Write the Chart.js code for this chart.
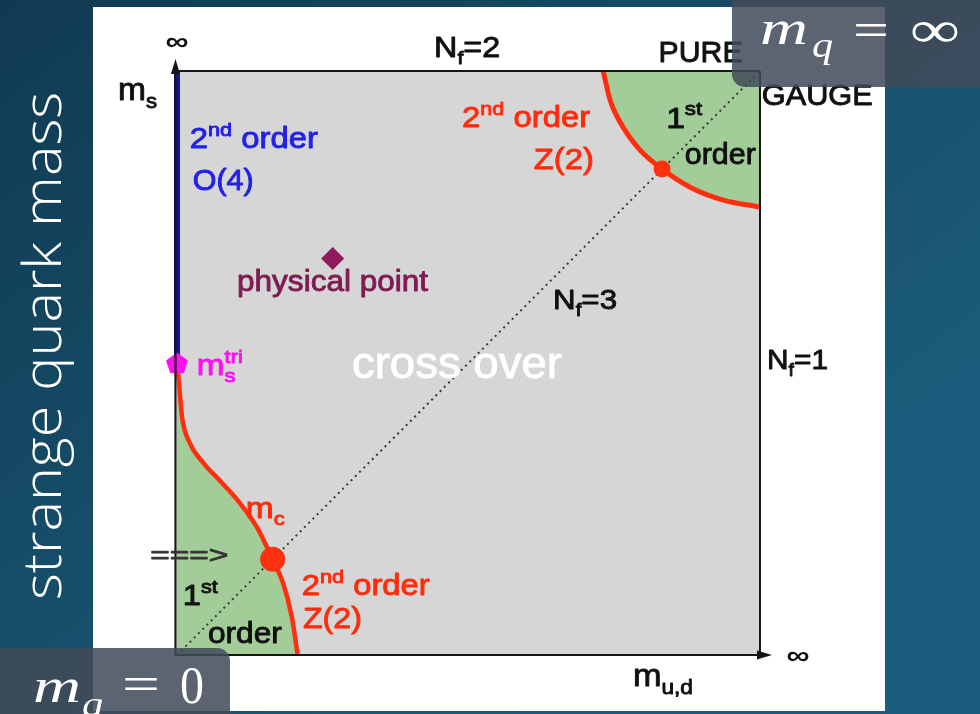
<!DOCTYPE html>
<html>
<head>
<meta charset="utf-8">
<title>Columbia plot</title>
<script src="https://cdn.jsdelivr.net/npm/chart.js@4.4.1/dist/chart.umd.min.js"></script>
<style>
  html, body { margin: 0; padding: 0; background: #123f57; overflow: hidden; }
  canvas { display: block; }
</style>
</head>
<body>
<canvas id="columbia" width="980" height="714"></canvas>
<script>
// Axes: light quark mass m_u,d (x) and strange quark mass m_s (y), scaled 0..1 where 1 stands for infinity.

// Lower chiral critical line m_c (Z(2)), from the tricritical point down to the m_u,d axis
const lowerBoundaryMud = [0, 0.0034, 0.0086, 0.022, 0.045, 0.077, 0.108, 0.137, 0.164, 0.182, 0.197, 0.207];
const lowerBoundaryMs  = [0.5, 0.466, 0.408, 0.363, 0.329, 0.295, 0.260, 0.219, 0.164, 0.123, 0.065, 0];

// Upper deconfinement critical line (Z(2)) around the pure gauge corner
const upperBoundaryMud = [0.731, 0.743, 0.765, 0.794, 0.832, 0.880, 0.937, 1.0];
const upperBoundaryMs  = [1.0, 0.950, 0.904, 0.865, 0.832, 0.801, 0.779, 0.767];

// Second-order O(4) line on the m_u,d = 0 edge
const o4LineMud = [0, 0];
const o4LineMs  = [0.5, 1.0];

// N_f = 3 diagonal
const nf3Mud = [0, 1];
const nf3Ms  = [0, 1];

// Critical end points on the N_f = 3 line
const criticalMud = [0.164, 0.832];
const criticalMs  = [0.164, 0.832];
const criticalSize = [12.5, 8.5];

// Physical point and tricritical strange mass
const physicalMud = [0.267];
const physicalMs  = [0.679];
const tricriticalMud = [0];
const tricriticalMs  = [0.5];

// Text annotations: parts are [text, 'sub' | 'sup' | 'supStack'], anchored in axis units
const RED = '#ff2c0c', BLUE = '#2222e8', MAROON = '#7e1c52', MAGENTA = '#ff10f0', INK = '#111111';
const annotations = [
  { parts: [['∞']], u: 0, v: 1.048, size: 26, width: 23, color: INK, bold: true, center: true },
  { parts: [['m'], ['s', 'sub']], u: -0.101, v: 0.950, size: 32, width: 39, color: INK },
  { parts: [['N'], ['f', 'sub'], ['=2']], u: 0.441, v: 1.024, size: 29, width: 66, color: INK },
  { parts: [['PURE']], u: 0.826, v: 1.015, size: 30, width: 84, color: INK },
  { parts: [['GAUGE']], u: 1.003, v: 0.942, size: 30, width: 111, color: INK },
  { parts: [['2'], ['nd', 'sup'], [' order']], u: 0.489, v: 0.904, size: 29, width: 128, color: RED },
  { parts: [['Z(2)']], u: 0.612, v: 0.832, size: 29, width: 60, color: RED },
  { parts: [['1'], ['st', 'sup']], u: 0.839, v: 0.903, size: 29, width: 36, color: INK },
  { parts: [['order']], u: 0.871, v: 0.841, size: 29, width: 71, color: INK },
  { parts: [['2'], ['nd', 'sup'], [' order']], u: 0.022, v: 0.868, size: 29, width: 128, color: BLUE },
  { parts: [['O(4)']], u: 0.027, v: 0.796, size: 29, width: 61, color: BLUE },
  { parts: [['physical point']], u: 0.103, v: 0.623, size: 29, width: 191, color: MAROON },
  { parts: [['N'], ['f', 'sub'], ['=3']], u: 0.645, v: 0.592, size: 28, width: 64, color: INK },
  { parts: [['m'], ['s', 'sub'], ['tri', 'supStack']], u: 0.034, v: 0.479, size: 29, width: 46, color: MAGENTA },
  { parts: [['cross over']], u: 0.300, v: 0.474, size: 44, width: 210, color: '#ffffff' },
  { parts: [['N'], ['f', 'sub'], ['=1']], u: 1.012, v: 0.490, size: 28, width: 61, color: INK },
  { parts: [['m'], ['c', 'sub']], u: 0.118, v: 0.235, size: 29, width: 39, color: RED },
  { parts: [['===>']], u: -0.046, v: 0.158, size: 24, width: 78, color: '#333333' },
  { parts: [['1'], ['st', 'sup']], u: 0.010, v: 0.086, size: 29, width: 35, color: INK },
  { parts: [['order']], u: 0.053, v: 0.021, size: 29, width: 74, color: INK },
  { parts: [['2'], ['nd', 'sup'], [' order']], u: 0.214, v: 0.103, size: 29, width: 128, color: RED },
  { parts: [['Z(2)']], u: 0.216, v: 0.046, size: 29, width: 59, color: RED },
  { parts: [['∞']], u: 1.065, v: -0.003, size: 26, width: 23, color: INK, bold: true, center: true },
  { parts: [['m'], ['u,d', 'sub']], u: 0.782, v: -0.053, size: 32, width: 60, color: INK }
];

const SIDE_TITLE = 'strange quark mass';

const SANS = '"Liberation Sans", Arial, Helvetica, sans-serif';
const SERIF = '"Liberation Serif", "Times New Roman", serif';

const toPoints = (xs, ys) => xs.map((x, i) => ({ x, y: ys[i] }));

// Pentagon marker for the tricritical point
function pentagonMarker(size, color) {
  const c = document.createElement('canvas');
  c.width = size; c.height = size;
  const g = c.getContext('2d');
  const r = size / 2 - 0.5, cx = size / 2, cy = size / 2 + 1;
  g.beginPath();
  for (let i = 0; i < 5; i++) {
    const a = -Math.PI / 2 + i * 2 * Math.PI / 5;
    const px = cx + r * Math.cos(a), py = cy + r * Math.sin(a);
    if (i === 0) g.moveTo(px, py); else g.lineTo(px, py);
  }
  g.closePath();
  g.fillStyle = color;
  g.fill();
  return c;
}

// Rich text with sub/superscripts, squeezed or stretched to a given width
function drawRich(ctx, x, y, item) {
  const weight = item.bold ? 'bold ' : '';
  const laid = [];
  let cursor = 0, prevStart = 0;
  for (const [t, kind] of item.parts) {
    const fs = kind ? item.size * 0.66 : item.size;
    ctx.font = `${weight}${fs}px ${SANS}`;
    const w = ctx.measureText(t).width;
    const sx = kind === 'supStack' ? prevStart : cursor;
    const dy = kind === 'sub' ? item.size * 0.24 : (kind ? -item.size * 0.42 : 0);
    laid.push({ t, fs, sx, dy });
    prevStart = sx;
    cursor = Math.max(cursor, sx + w);
  }
  const k = item.width ? item.width / cursor : 1;
  ctx.save();
  ctx.fillStyle = item.color;
  ctx.strokeStyle = item.color;
  ctx.lineWidth = item.bold ? 0 : 0.9;
  ctx.lineJoin = 'round';
  ctx.textAlign = 'left';
  ctx.textBaseline = item.center ? 'middle' : 'alphabetic';
  ctx.translate(item.center ? x - item.width / 2 : x, y);
  ctx.scale(k, 1);
  for (const p of laid) {
    ctx.font = `${weight}${p.fs}px ${SANS}`;
    ctx.fillText(p.t, p.sx, p.dy);
    if (!item.bold) ctx.strokeText(p.t, p.sx, p.dy);
  }
  ctx.restore();
}

function fitText(ctx, text, x, y, font, width, color) {
  ctx.save();
  ctx.font = font;
  ctx.fillStyle = color;
  ctx.textAlign = 'left';
  ctx.textBaseline = 'alphabetic';
  const w = ctx.measureText(text).width;
  ctx.translate(x, y);
  ctx.scale(width / w, 1);
  ctx.fillText(text, 0, 0);
  ctx.restore();
}

function roundBox(ctx, x, y, w, h, r, fill) {
  ctx.save();
  ctx.beginPath();
  ctx.roundRect(x, y, w, h, r);
  ctx.fillStyle = fill;
  ctx.fill();
  ctx.restore();
}

const slidePlugin = {
  id: 'slide',
  beforeDraw(chart) {
    const { ctx, chartArea: a } = chart;
    const W = chart.width, H = chart.height;
    ctx.save();
    const g = ctx.createLinearGradient(0, 0, W * 0.55, H);
    g.addColorStop(0, '#103a51');
    g.addColorStop(1, '#1b5d7c');
    ctx.fillStyle = g;
    ctx.fillRect(0, 0, W, H);
    // figure panel
    ctx.fillStyle = '#ffffff';
    ctx.fillRect(93, 7, 792, 704);
    // plot background (cross-over region)
    ctx.fillStyle = '#d6d6d6';
    ctx.fillRect(a.left, a.top, a.right - a.left, a.bottom - a.top);
    ctx.restore();
  },
  afterDatasetsDraw(chart) {
    const { ctx, chartArea: a, scales } = chart;
    ctx.save();
    ctx.strokeStyle = '#161616';
    ctx.fillStyle = '#161616';
    ctx.lineWidth = 2;
    // top and right frame
    ctx.beginPath();
    ctx.moveTo(a.left, a.top); ctx.lineTo(a.right, a.top);
    ctx.moveTo(a.right, a.top); ctx.lineTo(a.right, a.bottom);
    ctx.stroke();
    // axes
    ctx.lineWidth = 2.2;
    ctx.beginPath();
    ctx.moveTo(a.left - 1.5, a.bottom + 1); ctx.lineTo(a.left - 1.5, a.top - 6);
    ctx.moveTo(a.left - 1, a.bottom); ctx.lineTo(a.right + 6, a.bottom);
    ctx.stroke();
    // arrow heads
    ctx.beginPath();
    ctx.moveTo(a.left - 1.5, a.top - 12);
    ctx.lineTo(a.left - 6, a.top + 3);
    ctx.lineTo(a.left + 3, a.top + 3);
    ctx.closePath();
    ctx.fill();
    ctx.beginPath();
    ctx.moveTo(a.right + 12, a.bottom);
    ctx.lineTo(a.right - 3, a.bottom - 4.5);
    ctx.lineTo(a.right - 3, a.bottom + 4.5);
    ctx.closePath();
    ctx.fill();
    ctx.restore();

    for (const item of annotations) {
      const x = scales.x.getPixelForValue(item.u);
      const y = scales.y.getPixelForValue(item.v);
      drawRich(ctx, x, y, item);
    }
  },
  afterDraw(chart) {
    const { ctx } = chart;
    const box = 'rgba(66, 75, 90, 0.86)';
    // m_q = infinity tag
    roundBox(ctx, 732, -14, 270, 101, 13, box);
    fitText(ctx, 'm', 760, 44, `italic 48px ${SERIF}`, 48, '#ffffff');
    fitText(ctx, 'q', 812, 57, `italic 36px ${SERIF}`, 21, '#ffffff');
    fitText(ctx, '=', 853, 46, `48px ${SERIF}`, 36, '#ffffff');
    fitText(ctx, '∞', 910, 47, `52px ${SERIF}`, 50, '#ffffff');
    // m_q = 0 tag
    roundBox(ctx, -14, 648, 244, 80, 13, box);
    fitText(ctx, 'm', 33, 702, `italic 48px ${SERIF}`, 48, '#ffffff');
    fitText(ctx, 'q', 82, 716, `italic 36px ${SERIF}`, 21, '#ffffff');
    fitText(ctx, '=', 122, 700, `48px ${SERIF}`, 38, '#ffffff');
    fitText(ctx, '0', 180, 703, `52px ${SERIF}`, 24, '#ffffff');
    // vertical slide title
    ctx.save();
    ctx.translate(61, 346);
    ctx.rotate(-Math.PI / 2);
    ctx.font = `300 54px "Open Sans", sans-serif`;
    const w = ctx.measureText(SIDE_TITLE).width;
    ctx.scale(508 / w, 1);
    ctx.fillStyle = '#ffffff';
    ctx.textAlign = 'center';
    ctx.textBaseline = 'alphabetic';
    ctx.fillText(SIDE_TITLE, 0, 0);
    ctx.restore();
  }
};

new Chart(document.getElementById('columbia'), {
  type: 'scatter',
  data: {
    datasets: [
      {
        label: 'tricritical point',
        data: toPoints(tricriticalMud, tricriticalMs),
        pointStyle: pentagonMarker(24, MAGENTA),
        pointRadius: 12,
        clip: false,
        order: 0
      },
      {
        label: 'critical end points',
        data: toPoints(criticalMud, criticalMs),
        backgroundColor: '#ff300f',
        borderWidth: 0,
        pointRadius: criticalSize,
        clip: false,
        order: 1
      },
      {
        label: 'physical point',
        data: toPoints(physicalMud, physicalMs),
        pointStyle: 'rectRot',
        backgroundColor: '#8c1a5c',
        borderWidth: 0,
        pointRadius: 11.5,
        clip: false,
        order: 2
      },
      {
        label: 'O(4) line',
        data: toPoints(o4LineMud, o4LineMs),
        showLine: true,
        borderColor: '#14149c',
        borderWidth: 6,
        pointRadius: 0,
        clip: false,
        order: 3
      },
      {
        label: 'm_c line',
        data: toPoints(lowerBoundaryMud, lowerBoundaryMs),
        showLine: true,
        borderColor: '#ff2e0e',
        borderWidth: 4.5,
        backgroundColor: '#a2cd98',
        fill: 'origin',
        cubicInterpolationMode: 'monotone',
        pointRadius: 0,
        clip: false,
        order: 4
      },
      {
        label: 'pure gauge line',
        data: toPoints(upperBoundaryMud, upperBoundaryMs),
        showLine: true,
        borderColor: '#ff2e0e',
        borderWidth: 5,
        backgroundColor: '#a2cd98',
        fill: 'end',
        cubicInterpolationMode: 'monotone',
        pointRadius: 0,
        clip: false,
        order: 5
      },
      {
        label: 'N_f = 3',
        data: toPoints(nf3Mud, nf3Ms),
        showLine: true,
        borderColor: '#3a3a3a',
        borderWidth: 2,
        borderDash: [2, 4],
        pointRadius: 0,
        order: 6
      }
    ]
  },
  options: {
    responsive: false,
    animation: false,
    devicePixelRatio: 1,
    layout: { padding: { left: 177, right: 220, top: 71, bottom: 59 } },
    scales: {
      x: { type: 'linear', min: 0, max: 1, display: false },
      y: { type: 'linear', min: 0, max: 1, display: false }
    },
    plugins: {
      legend: { display: false },
      tooltip: { enabled: false },
      filler: { drawTime: 'beforeDatasetsDraw' }
    },
    events: []
  },
  plugins: [slidePlugin]
});
</script>
</body>
</html>
